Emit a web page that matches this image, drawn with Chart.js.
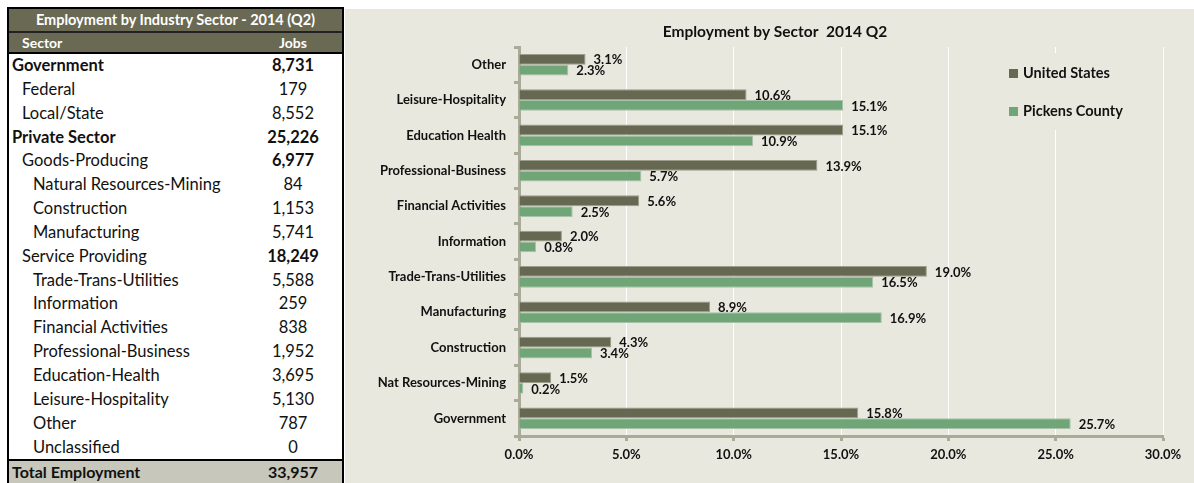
<!DOCTYPE html>
<html>
<head>
<meta charset="utf-8">
<script src="https://cdn.jsdelivr.net/npm/chart.js@4.4.1/dist/chart.umd.min.js"></script>
<style>
  html, body { margin: 0; padding: 0; background: #fff; width: 1194px; height: 483px; overflow: hidden; font-family: Lato, "Open Sans", sans-serif; }
  #table-box { position: absolute; left: 7px; top: 7px; width: 333px; height: 490px; border: 2px solid #000; background: #fff; box-sizing: content-box; }
  .t-title { height: 22px; line-height: 22px; background: #6a6a54; color: #fff; font-weight: bold; font-size: 14.5px; text-align: center; border-bottom: 2px solid #222; }
  .t-head { position: relative; height: 19px; line-height: 19px; background: #6a6a54; color: #fff; font-weight: bold; font-size: 14px; border-bottom: 2px solid #000; }
  .t-row { position: relative; height: 23.85px; line-height: 23.85px; font-size: 16.5px; color: #111; }
  .t-row .name { position: absolute; white-space: nowrap; }
  .t-row .val { position: absolute; left: 244px; width: 80px; text-align: center; }
  .t-total { position: relative; height: 24px; line-height: 22px; background: #c7c7bb; border-top: 2px solid #000; font-size: 16px; font-weight: bold; color: #111; }
  .b { font-weight: bold; }
  #chart-box { position: absolute; left: 345px; top: 9px; width: 849px; height: 474px; background: #e9e8de; }
</style>
</head>
<body>
<div id="table-box">
  <div class="t-title">Employment by Industry Sector - 2014 (Q2)</div>
  <div class="t-head"><span style="position:absolute;left:13px">Sector</span><span style="position:absolute;left:244px;width:80px;text-align:center">Jobs</span></div>
  <div id="table-rows"></div>
  <div class="t-total"><span style="position:absolute;left:3px">Total Employment</span><span style="position:absolute;left:244px;width:80px;text-align:center">33,957</span></div>
</div>
<div id="chart-box"><canvas id="chart"></canvas></div>
<script>
// table data
const tableNames = ["Government", "Federal", "Local/State", "Private Sector", "Goods-Producing",
  "Natural Resources-Mining", "Construction", "Manufacturing", "Service Providing",
  "Trade-Trans-Utilities", "Information", "Financial Activities", "Professional-Business",
  "Education-Health", "Leisure-Hospitality", "Other", "Unclassified"];
const tableJobs = ["8,731", "179", "8,552", "25,226", "6,977", "84", "1,153", "5,741", "18,249",
  "5,588", "259", "838", "1,952", "3,695", "5,130", "787", "0"];
const tableLevel = [0, 1, 1, 0, 1, 2, 2, 2, 1, 2, 2, 2, 2, 2, 2, 2, 2];

// chart data
const chartTitle = "Employment by Sector  2014 Q2";
const sectors = ["Other", "Leisure-Hospitality", "Education Health", "Professional-Business",
  "Financial Activities", "Information", "Trade-Trans-Utilities", "Manufacturing",
  "Construction", "Nat Resources-Mining", "Government"];
const usShare = [3.1, 10.6, 15.1, 13.9, 5.6, 2.0, 19.0, 8.9, 4.3, 1.5, 15.8];
const pickensShare = [2.3, 15.1, 10.9, 5.7, 2.5, 0.8, 16.5, 16.9, 3.4, 0.2, 25.7];
const xTicks = [0, 5, 10, 15, 20, 25, 30];

const rowsEl = document.getElementById("table-rows");
const indents = [3, 13, 24];
tableNames.forEach((name, i) => {
  const row = document.createElement("div");
  row.className = "t-row";
  const lvl = tableLevel[i];
  const boldName = lvl === 0;
  const boldVal = lvl < 2 && name !== "Federal" && name !== "Local/State";
  row.innerHTML = `<span class="name${boldName ? ' b' : ''}" style="left:${indents[lvl]}px">${name}</span>` +
    `<span class="val${boldVal ? ' b' : ''}">${tableJobs[i]}</span>`;
  rowsEl.appendChild(row);
});

const US_COLOR = "#676851";
const PK_COLOR = "#70a578";
const AXIS_COLOR = "#a9aa98";
const FONT = "Lato";

const barLabels = {
  id: "barLabels",
  afterDatasetsDraw(chart) {
    const ctx = chart.ctx;
    ctx.save();
    ctx.font = `bold 13px ${FONT}`;
    ctx.fillStyle = "#111";
    ctx.textAlign = "left";
    ctx.textBaseline = "middle";
    chart.data.datasets.forEach((ds, di) => {
      chart.getDatasetMeta(di).data.forEach((bar, i) => {
        ctx.fillText(ds.data[i].toFixed(1) + "%", bar.x + 8, bar.y + 1);
      });
    });
    ctx.restore();
  }
};

// title + legend box drawn inside the plot, like the Excel original
const boxLegend = {
  id: "boxLegend",
  beforeDatasetsDraw(chart) {
    const ctx = chart.ctx;
    ctx.save();
    ctx.fillStyle = "#e9e8de";
    ctx.fillRect(650, 44, 155, 77);
    ctx.restore();
  },
  afterDraw(chart) {
    const ctx = chart.ctx;
    ctx.save();
    ctx.fillStyle = "#111";
    ctx.textBaseline = "middle";
    ctx.textAlign = "center";
    ctx.font = `bold 15.5px ${FONT}`;
    ctx.fillText(chartTitle, 430, 23);

    ctx.font = `bold 14.5px ${FONT}`;
    ctx.textAlign = "left";
    chart.data.datasets.forEach((ds, i) => {
      const y = 64 + i * 38;
      ctx.fillStyle = ds.backgroundColor;
      ctx.fillRect(664, y - 4, 9, 9);
      ctx.fillStyle = "#111";
      ctx.fillText(ds.label, 678, y);
    });
    ctx.restore();
  }
};

new Chart(document.getElementById("chart"), {
  type: "bar",
  data: {
    labels: sectors,
    datasets: [
      { label: "United States", data: usShare, backgroundColor: US_COLOR, borderColor: "#9c9d8a", borderWidth: 1 },
      { label: "Pickens County", data: pickensShare, backgroundColor: PK_COLOR, borderColor: "#a7c2a8", borderWidth: 1 }
    ]
  },
  options: {
    indexAxis: "y",
    responsive: true,
    maintainAspectRatio: false,
    animation: false,
    layout: { padding: { left: 0, right: 31, top: 38, bottom: 0 } },
    datasets: { bar: { categoryPercentage: 0.61, barPercentage: 1.0 } },
    plugins: {
      legend: { display: false },
      tooltip: { enabled: false },
      title: { display: false }
    },
    scales: {
      x: {
        min: 0,
        max: 30,
        afterBuildTicks(scale) { scale.ticks = xTicks.map(v => ({ value: v })); },
        afterFit(scale) { scale.height = 47; },
        border: { color: AXIS_COLOR, width: 3 },
        grid: { color: "#ffffff", lineWidth: 1, tickColor: AXIS_COLOR, tickLength: 5, tickWidth: 3 },
        ticks: {
          padding: 6,
          color: "#111",
          font: { family: FONT, size: 13, weight: "bold" },
          callback: v => v.toFixed(1) + "%"
        }
      },
      y: {
        afterFit(scale) { scale.width = 174; },
        border: { color: AXIS_COLOR, width: 3 },
        grid: { drawOnChartArea: false, tickColor: AXIS_COLOR, tickLength: 5, tickWidth: 3 },
        ticks: {
          padding: 8,
          color: "#111",
          font: { family: FONT, size: 13, weight: "bold" }
        }
      }
    }
  },
  plugins: [barLabels, boxLegend]
});
</script>
</body>
</html>
